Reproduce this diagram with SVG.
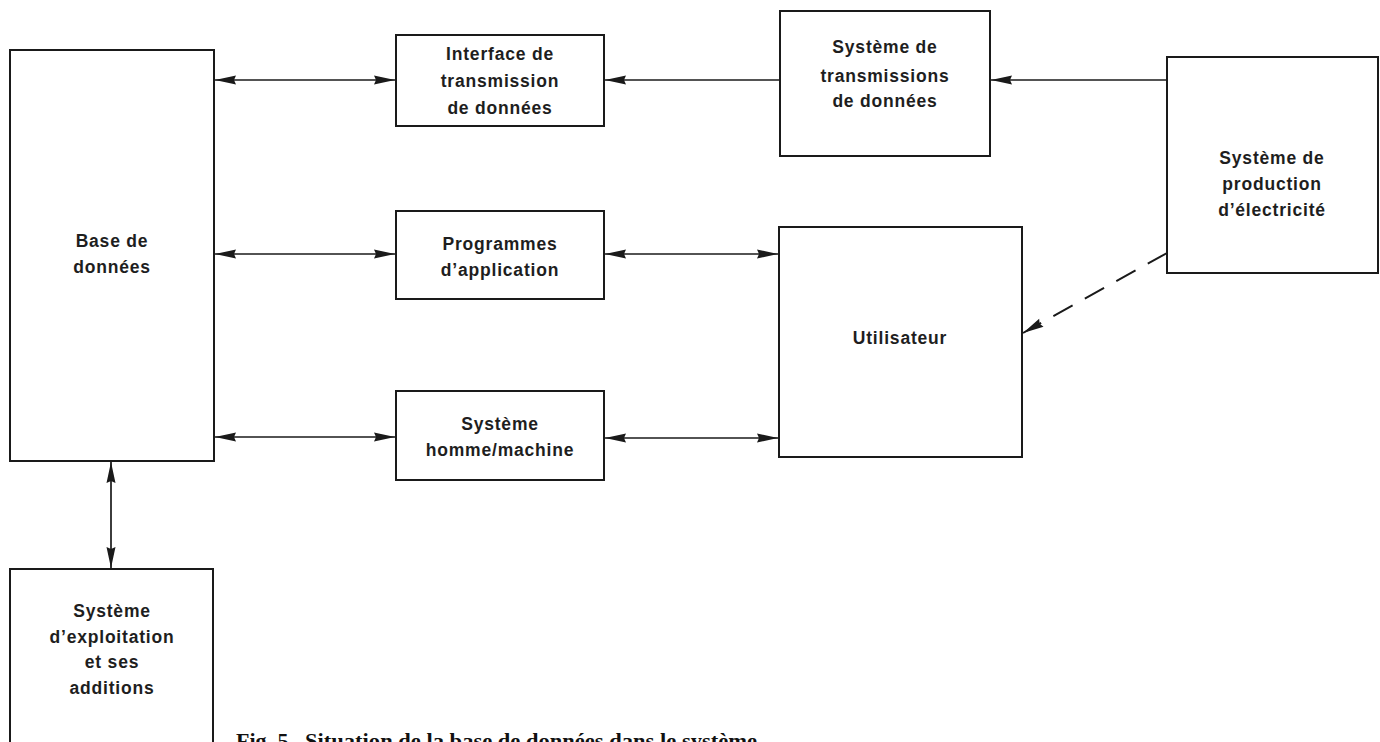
<svg xmlns="http://www.w3.org/2000/svg" width="1380" height="742" viewBox="0 0 1380 742">
<style>
.box{fill:none;stroke:#1a1a1a;stroke-width:2}
.lbl{font-family:"Liberation Sans",Arial,sans-serif;font-weight:bold;font-size:17.5px;letter-spacing:0.8px;fill:#1e1e1e;text-anchor:middle}
.con{stroke:#1a1a1a;stroke-width:1.7;fill:none}
.dash{stroke-dasharray:22 14;stroke-width:2}
.cap{font-family:"Liberation Serif","Times New Roman",serif;font-weight:bold;font-size:22px;fill:#111}
</style>
<defs>
<marker id="ah" viewBox="-24 -6 26 12" refX="0" refY="0" markerWidth="26" markerHeight="12" markerUnits="userSpaceOnUse" orient="auto-start-reverse">
<path d="M0,0 L-21,-4.5 L-19,0 L-21,4.5 Z" fill="#1a1a1a"/>
</marker>
</defs>
<rect width="1380" height="742" fill="#fff"/>

<g id="base">
<rect class="box" x="10" y="50" width="204" height="411"/>
<text class="lbl" x="112" y="247">Base de</text>
<text class="lbl" x="112" y="273">données</text>
</g>
<g id="interface">
<rect class="box" x="396" y="35" width="208" height="91"/>
<text class="lbl" x="500" y="60">Interface de</text>
<text class="lbl" x="500" y="87">transmission</text>
<text class="lbl" x="500" y="114">de données</text>
</g>
<g id="transmissions">
<rect class="box" x="780" y="11" width="210" height="145"/>
<text class="lbl" x="885" y="53">Système de</text>
<text class="lbl" x="885" y="82">transmissions</text>
<text class="lbl" x="885" y="107">de données</text>
</g>
<g id="production">
<rect class="box" x="1167" y="57" width="211" height="216"/>
<text class="lbl" x="1272" y="164">Système de</text>
<text class="lbl" x="1272" y="190">production</text>
<text class="lbl" x="1272" y="216">d’électricité</text>
</g>
<g id="programmes">
<rect class="box" x="396" y="211" width="208" height="88"/>
<text class="lbl" x="500" y="250">Programmes</text>
<text class="lbl" x="500" y="276">d’application</text>
</g>
<g id="utilisateur">
<rect class="box" x="779" y="227" width="243" height="230"/>
<text class="lbl" x="900" y="344">Utilisateur</text>
</g>
<g id="homme-machine">
<rect class="box" x="396" y="391" width="208" height="89"/>
<text class="lbl" x="500" y="430">Système</text>
<text class="lbl" x="500" y="456">homme/machine</text>
</g>
<g id="exploitation">
<rect class="box" x="10" y="569" width="203" height="200"/>
<text class="lbl" x="112" y="617">Système</text>
<text class="lbl" x="112" y="643">d’exploitation</text>
<text class="lbl" x="112" y="668">et ses</text>
<text class="lbl" x="112" y="694">additions</text>
</g>

<g id="connectors">
<line class="con" x1="215" y1="80" x2="395" y2="80" marker-start="url(#ah)" marker-end="url(#ah)"/>
<line class="con" x1="779" y1="80" x2="605" y2="80" marker-end="url(#ah)"/>
<line class="con" x1="1167" y1="80" x2="991" y2="80" marker-end="url(#ah)"/>
<line class="con" x1="215" y1="254" x2="395" y2="254" marker-start="url(#ah)" marker-end="url(#ah)"/>
<line class="con" x1="605" y1="254" x2="778" y2="254" marker-start="url(#ah)" marker-end="url(#ah)"/>
<line class="con" x1="215" y1="437" x2="395" y2="437" marker-start="url(#ah)" marker-end="url(#ah)"/>
<line class="con" x1="605" y1="438" x2="778" y2="438" marker-start="url(#ah)" marker-end="url(#ah)"/>
<line class="con" x1="111" y1="462" x2="111" y2="568" marker-start="url(#ah)" marker-end="url(#ah)"/>
<line class="con dash" x1="1167" y1="253" x2="1023" y2="333" marker-end="url(#ah)"/>
</g>

<g id="caption">
<text class="cap" x="236" y="748">Fig. 5</text>
<text class="cap" x="305" y="748" textLength="452" lengthAdjust="spacingAndGlyphs">Situation de la base de données dans le système</text>
</g>
</svg>
